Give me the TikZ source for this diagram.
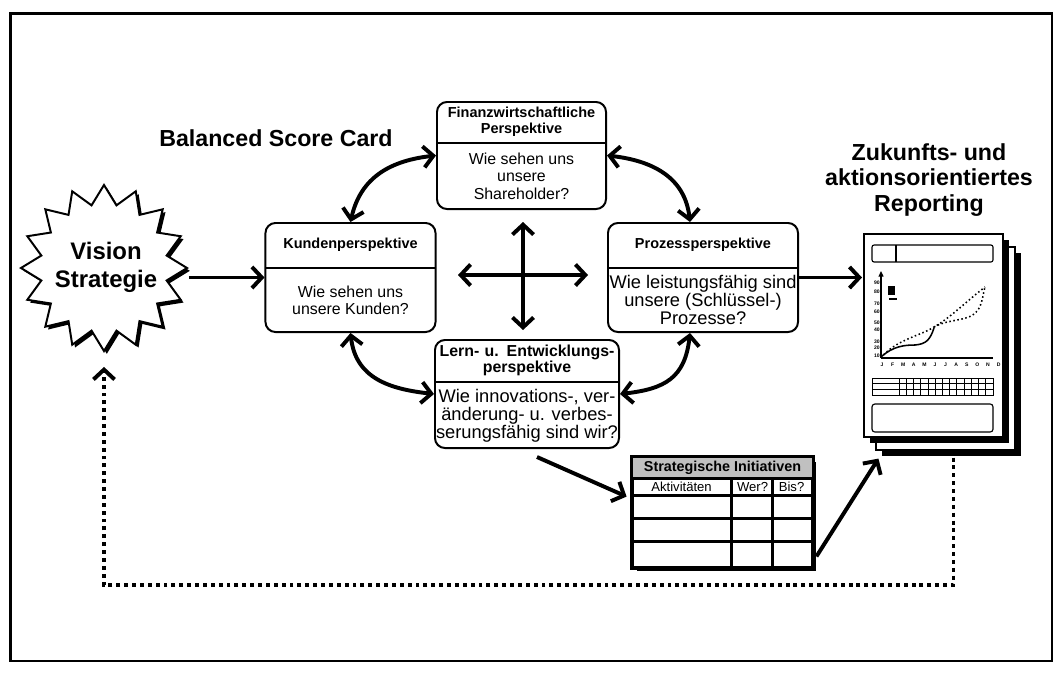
\documentclass[tikz,border=0pt]{standalone}
\usepackage{fontspec}
\setmainfont{Liberation Sans}
\usetikzlibrary{shapes.geometric,arrows.meta,calc,shadows,positioning}
\definecolor{headgray}{RGB}{192,192,192}

\begin{document}
\begin{tikzpicture}[x=0.025cm, y=-0.025cm,
    arrowstyle/.style={draw, line width=2.8pt, -{Straight Barb[length=7pt,width=15pt]}},
    dblarrowstyle/.style={draw, line width=2.8pt,
        {Straight Barb[length=7pt,width=15pt]}-{Straight Barb[length=7pt,width=15pt]}},
    feedback/.style={draw, line width=2.8pt, dash pattern=on 2.8pt off 2.8pt,
        -{Straight Barb[length=7pt,width=15pt]}},
    perspective/.style={rectangle, draw, line width=1.4pt, rounded corners=2.5mm, fill=white},
    header/.style={rectangle, inner sep=0pt, align=center, anchor=north,
        font=\fontsize{10.3}{12}\selectfont\bfseries},
    question/.style={inner sep=0pt, align=center, font=\fontsize{11.3}{12.2}\selectfont},
    page/.style={rectangle, draw, line width=0.8pt, fill=white, minimum width=3.475cm,
        minimum height=5.075cm,
        drop shadow={shadow xshift=4.3pt, shadow yshift=-4.3pt, opacity=1, fill=black}},
    chartlabel/.style={inner sep=0pt, font=\fontsize{3.6}{4}\selectfont\bfseries},
    tabletext/.style={inner sep=0pt, font=\fontsize{9.3}{10}\selectfont},
    titletext/.style={align=center, inner sep=0pt, font=\fontsize{16.5}{18.2}\selectfont\bfseries}
]
\useasboundingbox (0,0) rectangle (1062,672);
\draw[line width=2.1pt] (10.5,13.5) rectangle (1052,661);

\node[titletext] (BSC) at (276,138) {Balanced Score Card};
\node[titletext] (Reporting) at (929,180) {Zukunfts- und\\aktionsorientiertes\\Reporting};

\node[star, star points=16, star point ratio=1.3, draw, line width=1.4pt, fill=white,
    inner sep=0pt, minimum size=4.15cm,
    drop shadow={shadow xshift=2pt, shadow yshift=-2pt, opacity=1, fill=black}]
    (Vision) at (104,268) {};
\node[align=center, inner sep=0pt, font=\fontsize{17}{20}\selectfont\bfseries]
    (VisionText) at (106,267) {Vision\\Strategie};

\node[perspective, minimum width=4.225cm, minimum height=2.675cm] (Finanz) at (521.5,155.5) {};
\node[header, text width=4.225cm, minimum height=1.025cm] (FinanzHead) at (Finanz.north)
    {Finanzwirtschaftliche\\Perspektive};
\draw[line width=1.4pt] (FinanzHead.south west) -- (FinanzHead.south east);
\node[question] (FinanzText) at ($(FinanzHead.south)!0.5!(Finanz.south)$)
    {Wie sehen uns\\unsere\\Shareholder?};

\node[perspective, minimum width=4.25cm, minimum height=2.725cm] (Kunden) at (350.5,277.5) {};
\node[header, text width=4.25cm, minimum height=1.125cm] (KundenHead) at (Kunden.north)
    {Kundenperspektive};
\draw[line width=1.4pt] (KundenHead.south west) -- (KundenHead.south east);
\node[question] (KundenText) at ($(KundenHead.south)!0.5!(Kunden.south)$)
    {Wie sehen uns\\unsere Kunden?};

\node[perspective, minimum width=4.75cm, minimum height=2.725cm] (Prozess) at (703,277.5) {};
\node[header, text width=4.75cm, minimum height=1.125cm] (ProzessHead) at (Prozess.north)
    {Prozessperspektive};
\draw[line width=1.4pt] (ProzessHead.south west) -- (ProzessHead.south east);
\node[question, font=\fontsize{13}{12.8}\selectfont] (ProzessText)
    at ($(ProzessHead.south)!0.5!(Prozess.south)$)
    {Wie leistungsfähig sind\\unsere (Schlüssel-)\\Prozesse?};

\node[perspective, minimum width=4.6cm, minimum height=2.7cm] (Lernen) at (527,394) {};
\node[header, text width=4.6cm, minimum height=1.05cm, font=\fontsize{11.3}{11.5}\selectfont\bfseries]
    (LernenHead) at (Lernen.north) {Lern- u. Entwicklungs-\\perspektive};
\draw[line width=1.4pt] (LernenHead.south west) -- (LernenHead.south east);
\node[question, font=\fontsize{13}{12.8}\selectfont] (LernenText)
    at ($(LernenHead.south)!0.5!(Lernen.south)$)
    {Wie innovations-, ver-\\änderung- u. verbes-\\serungsfähig sind wir?};

\coordinate (Mitte) at (523,275);
\draw[dblarrowstyle] ($(Mitte)+(-65,0)$) -- ($(Mitte)+(65,0)$);
\draw[dblarrowstyle] ($(Mitte)+(0,-53)$) -- ($(Mitte)+(0,55)$);

\draw[dblarrowstyle] (Kunden.north) .. controls +(10,-45) and +(-45,5) .. (Finanz.west);
\draw[dblarrowstyle] (Finanz.east) .. controls +(45,5) and +(-5,-45) .. ($(Prozess.north)+(-13,0)$);
\draw[dblarrowstyle] ($(Prozess.south)+(-13,0)$) .. controls +(-5,45) and +(45,-5) .. (Lernen.east);
\draw[dblarrowstyle] (Kunden.south) .. controls +(5,45) and +(-45,-5) .. (Lernen.west);

\node[page] (Report02) at (945.5,348.5) {};
\node[page] (Report01) at (933.5,335.5) {};

\draw[line width=0.8pt, rounded corners=1.5pt] (872,245) rectangle (993,262);
\draw[line width=0.8pt] (896,245) -- (896,262);
\draw[line width=0.9pt, -{Triangle[length=4pt,width=3.5pt]}] (881,358) -- (881,271);
\draw[line width=0.9pt] (881,358) -- (993,358);
\foreach \wert/\ypos in {90/283,80/292,70/304,60/312,50/323,40/330,30/342,20/348,10/356}
    \node[chartlabel, anchor=east] (y\wert) at (880,\ypos) {\wert};
\foreach \mon [count=\i] in {J,F,M,A,M,J,J,A,S,O,N,D}
    \node[chartlabel] (m\i) at ({882+(\i-1)*10.6},365) {\mon};
\fill (888,286) rectangle (895,295);
\fill (889,297.5) rectangle (897,299.5);
\draw[line width=1.1pt] (881,357) .. controls (893,346) and (905,345) .. (915,345)
    .. controls (926,344) and (930,340) .. (934,328);
\draw[line width=1.1pt, dash pattern=on 1.1pt off 1.8pt] (881,358) .. controls (895,340) and (920,336) .. (934,327)
    .. controls (950,318) and (968,300) .. (985,287);
\draw[line width=1.1pt, dash pattern=on 1.1pt off 1.8pt] (934,327) .. controls (950,318) and (970,322) .. (978,310)
    .. controls (983,302) and (983,293) .. (985,287);
\draw[line width=0.6pt] (872,378) rectangle (993,395);
\foreach \gy in {383.7,389.3}
    \draw[line width=0.6pt] (872,\gy) -- (993,\gy);
\foreach \gx in {0,...,12}
    \draw[line width=0.6pt] ({899+\gx*7.23},378) -- ({899+\gx*7.23},395);
\draw[line width=0.8pt, rounded corners=2pt] (872,404) rectangle (993,432);

\node[rectangle, draw, line width=2pt, minimum width=4.475cm, minimum height=2.725cm, fill=white,
    drop shadow={shadow xshift=2.5pt, shadow yshift=-2.5pt, opacity=1, fill=black}]
    (Initiativen) at (722.5,512.5) {};
\fill[headgray] (Initiativen.north west) rectangle ($(Initiativen.north east)+(0,22)$);
\draw[line width=2pt] (Initiativen.north west) rectangle (Initiativen.south east);
\foreach \dy in {22,39,62,85}
    \draw[line width=1.6pt] ($(Initiativen.north west)+(0,\dy)$) -- ($(Initiativen.north east)+(0,\dy)$);
\foreach \dx in {100,141}
    \draw[line width=1.6pt] ($(Initiativen.north west)+(\dx,22)$) -- ($(Initiativen.south west)+(\dx,0)$);
\node[inner sep=0pt, font=\fontsize{10.2}{11}\selectfont\bfseries] (InitTitel)
    at ($(Initiativen.north)+(0,11)$) {Strategische Initiativen};
\node[tabletext] (Aktivitaeten) at ($(Initiativen.north west)+(50,30.5)$) {Aktivitäten};
\node[tabletext] (Wer) at ($(Initiativen.north west)+(121,30.5)$) {Wer?};
\node[tabletext] (Bis) at ($(Initiativen.north west)+(160,30.5)$) {Bis?};

\draw[arrowstyle] (Vision.east |- Kunden.west) -- (Kunden.west);
\draw[arrowstyle, shorten >=1pt] (Prozess.east) -- (Prozess.east -| Report01.west);
\draw[arrowstyle] ($(Lernen.south)+(10,8)$) -- ($(Initiativen.north west)+(-5,40)$);
\draw[arrowstyle] ($(Initiativen.south east)+(3,-12)$) -- ($(Report02.south west)+(3,8)$);

\coordinate (Basis) at (0,585);
\draw[feedback] ($(Report02.south)+(8,7)$) |- (Basis -| Vision.south) -- ($(Vision.south)+(0,14)$);

\end{tikzpicture}
\end{document}
